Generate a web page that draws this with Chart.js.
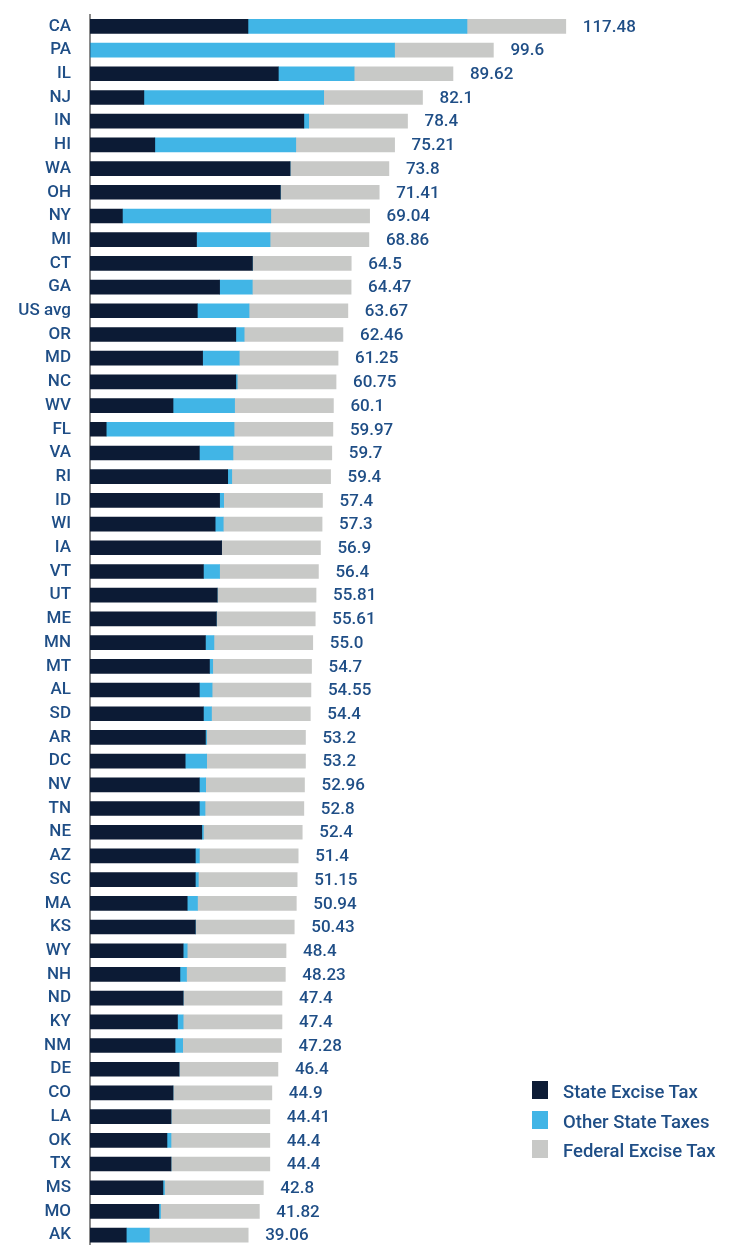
<!DOCTYPE html>
<html>
<head>
<meta charset="utf-8">
<script src="https://cdn.jsdelivr.net/npm/chart.js@4.4.1/dist/chart.umd.min.js"></script>
<style>
  html, body { margin: 0; padding: 0; background: #ffffff; overflow: hidden; width: 732px; height: 1245px; }
  #wrap { position: absolute; left: 0; top: 0; width: 732px; height: 1247px; }
  #legend { position: absolute; left: 532px; top: 1081px; font-family: Roboto, "Noto Sans", sans-serif; font-weight: 500; font-size: 18.5px; color: #1f4e86; }
  .item { position: relative; height: 29.5px; }
  .sw { position: absolute; left: 0; top: 0; width: 16px; height: 18px; }
  .lb { position: absolute; left: 31px; top: 1px; line-height: 21px; white-space: nowrap; }
</style>
</head>
<body>
<div id="wrap"><canvas id="c" width="732" height="1247"></canvas></div>
<div id="legend"></div>
<script>
const categories = ['CA','PA','IL','NJ','IN','HI','WA','OH','NY','MI','CT','GA','US avg','OR','MD','NC','WV','FL','VA','RI','ID','WI','IA','VT','UT','ME','MN','MT','AL','SD','AR','DC','NV','TN','NE','AZ','SC','MA','KS','WY','NH','ND','KY','NM','DE','CO','LA','OK','TX','MS','MO','AK'];
const stateExcise = [39, 0, 46.5, 13.3, 52.8, 16, 49.4, 47, 8, 26.3, 40.1, 32, 26.5, 36, 27.8, 36, 20.5, 4, 27, 34, 32, 30.9, 32.5, 28, 31.41, 31.2, 28.5, 29.5, 27, 28, 28.5, 23.5, 27, 27, 27.6, 26, 26, 24, 26, 23, 22.2, 23, 21.6, 21, 22, 20.5, 20, 19, 20, 18, 17, 8.95];
const otherState = [54.08, 75.2, 18.72, 44.4, 1.2, 34.81, 0, 0.01, 36.64, 18.16, 0, 8.07, 12.77, 2.06, 9.05, 0.35, 15.2, 31.57, 8.3, 1, 1, 2.0, 0, 4, 0, 0.01, 2.1, 0.8, 3.15, 2, 0.3, 5.3, 1.56, 1.4, 0.4, 1, 0.75, 2.54, 0.03, 1, 1.63, 0, 1.4, 1.88, 0, 0, 0.01, 1, 0, 0.4, 0.42, 5.71];
const federalExcise = [24.4, 24.4, 24.4, 24.4, 24.4, 24.4, 24.4, 24.4, 24.4, 24.4, 24.4, 24.4, 24.4, 24.4, 24.4, 24.4, 24.4, 24.4, 24.4, 24.4, 24.4, 24.4, 24.4, 24.4, 24.4, 24.4, 24.4, 24.4, 24.4, 24.4, 24.4, 24.4, 24.4, 24.4, 24.4, 24.4, 24.4, 24.4, 24.4, 24.4, 24.4, 24.4, 24.4, 24.4, 24.4, 24.4, 24.4, 24.4, 24.4, 24.4, 24.4, 24.4];
const totalLabels = ['117.48','99.6','89.62','82.1','78.4','75.21','73.8','71.41','69.04','68.86','64.5','64.47','63.67','62.46','61.25','60.75','60.1','59.97','59.7','59.4','57.4','57.3','56.9','56.4','55.81','55.61','55.0','54.7','54.55','54.4','53.2','53.2','52.96','52.8','52.4','51.4','51.15','50.94','50.43','48.4','48.23','47.4','47.4','47.28','46.4','44.9','44.41','44.4','44.4','42.8','41.82','39.06'];
const seriesNames = ['State Excise Tax','Other State Taxes','Federal Excise Tax'];
const seriesColors = ['#0c1b35','#41b5e6','#c8c9c7'];

const textColor = '#1f4e86';
const fontFam = 'Roboto, "Noto Sans", sans-serif';

const totalsPlugin = {
  id: 'totals',
  afterDatasetsDraw(chart) {
    const ctx = chart.ctx;
    const last = chart.getDatasetMeta(chart.data.datasets.length - 1);
    ctx.save();
    ctx.font = '500 17px ' + fontFam;
    ctx.fillStyle = textColor;
    ctx.textAlign = 'left';
    ctx.textBaseline = 'middle';
    last.data.forEach((bar, i) => {
      ctx.fillText(totalLabels[i], bar.x + 17, bar.y + 1);
    });
    ctx.restore();
  }
};

new Chart(document.getElementById('c'), {
  type: 'bar',
  data: {
    labels: categories,
    datasets: [
      { label: seriesNames[0], data: stateExcise, backgroundColor: seriesColors[0] },
      { label: seriesNames[1], data: otherState, backgroundColor: seriesColors[1] },
      { label: seriesNames[2], data: federalExcise, backgroundColor: seriesColors[2] }
    ]
  },
  options: {
    indexAxis: 'y',
    responsive: false,
    animation: false,
    devicePixelRatio: 1,
    datasets: { bar: { barThickness: 14, borderWidth: 0 } },
    layout: { padding: { top: 14.5, right: 34.5, bottom: 0, left: 0 } },
    plugins: { legend: { display: false }, tooltip: { enabled: false } },
    scales: {
      x: { stacked: true, min: 0, max: 150, display: false },
      y: {
        stacked: true,
        grid: { display: false, drawTicks: false },
        border: { display: true, color: '#8a8a8a', width: 2 },
        ticks: { color: textColor, font: { family: fontFam, size: 17, weight: '500' }, padding: 19, autoSkip: false },
        afterFit(scale) { scale.width = 90; scale.paddingTop = 0; scale.paddingBottom = 0; }
      }
    }
  },
  plugins: [totalsPlugin]
});

const lg = document.getElementById('legend');
seriesNames.forEach((n, i) => {
  const d = document.createElement('div');
  d.className = 'item';
  d.innerHTML = '<div class="sw" style="background:' + seriesColors[i] + '"></div><div class="lb">' + n + '</div>';
  lg.appendChild(d);
});
</script>
</body>
</html>
